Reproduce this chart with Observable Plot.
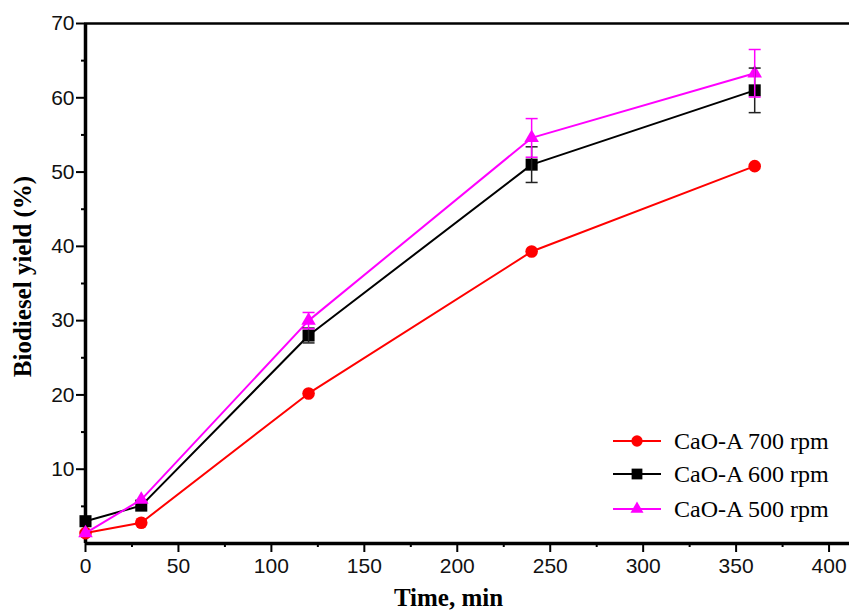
<!DOCTYPE html>
<html>
<head>
<meta charset="utf-8">
<script src="https://cdn.jsdelivr.net/npm/d3@7"></script>
<script src="https://cdn.jsdelivr.net/npm/@observablehq/plot@0.6"></script>
<style>
  html, body { margin: 0; padding: 0; background: #fff; }
  #wrap { position: relative; width: 849px; height: 610px; overflow: hidden; }
  #legend { position: absolute; left: 0; top: 0; pointer-events: none; }
</style>
</head>
<body>
<div id="wrap"></div>
<script>
// ---- data ----
const time = [0, 30, 120, 240, 360];
const seriesNames = ["CaO-A 700 rpm", "CaO-A 600 rpm", "CaO-A 500 rpm"];
const yield700 = [1.4, 2.8, 20.2, 39.3, 50.8];
const yield600 = [3.0, 5.1, 28.0, 51.0, 61.0];
const yield500 = [1.4, 5.9, 30.0, 54.6, 63.3];
const err700 = [0, 0, 0, 0, 0];
const err600 = [0, 0, 1.0, 2.4, 3.0];
const err500 = [0, 0, 1.1, 2.6, 3.2];
const xTicks = [0, 50, 100, 150, 200, 250, 300, 350, 400];
const xMinorTicks = [25, 75, 125, 175, 225, 275, 325, 375];
const yTicks = [10, 20, 30, 40, 50, 60, 70];
const yMinorTicks = [5, 15, 25, 35, 45, 55, 65];
const xLabel = "Time, min";
const yLabel = "Biodiesel yield (%)";

// ---- styles ----
const colors = ["#ff0000", "#000000", "#ff00ff"];
const barColors = ["#ff0000", "#222222", "#ff00ff"];
const symbols = ["circle", "square", "triangle"];
const radii = [6.3, 6.8, 5.4];

const seriesValues = [yield700, yield600, yield500];
const seriesErr = [err700, err600, err500];

const rows = [];
seriesNames.forEach((name, s) => {
  time.forEach((t, i) => rows.push({series: name, s, time: t, y: seriesValues[s][i], err: seriesErr[s][i]}));
});
const errRows = rows.filter(d => d.err > 0);
const capRows = errRows.flatMap(d => [{...d, cy: d.y - d.err}, {...d, cy: d.y + d.err}]);

const cap = {draw(ctx) { ctx.moveTo(-6, 0); ctx.lineTo(6, 0); }};

const marks = [
  Plot.frame({anchor: "top", strokeWidth: 2.5}),
  Plot.axisX({ticks: xTicks, tickSize: 9, tickPadding: 6, strokeWidth: 2, label: null, fontSize: 21, fill: "#111"}),
  Plot.axisX({ticks: xMinorTicks, tickSize: 4, strokeWidth: 2, tickFormat: () => "", label: null}),
  Plot.axisY({ticks: yTicks, tickSize: 9, tickPadding: 2, strokeWidth: 2, label: null, fontSize: 21, fill: "#111"}),
  Plot.axisY({ticks: yMinorTicks, tickSize: 4, strokeWidth: 2, tickFormat: () => "", label: null}),
  Plot.ruleX([0], {strokeWidth: 3.5}),
  Plot.ruleY([0], {strokeWidth: 3.5})
];

seriesNames.forEach((name, s) => {
  const data = rows.filter(d => d.s === s);
  marks.push(Plot.line(data, {x: "time", y: "y", stroke: colors[s], strokeWidth: 2}));
  marks.push(Plot.dot(data, {x: "time", y: "y", symbol: symbols[s], r: radii[s], fill: colors[s], stroke: "none"}));
});
seriesNames.forEach((name, s) => {
  const e = errRows.filter(d => d.s === s);
  const c = capRows.filter(d => d.s === s);
  marks.push(Plot.ruleX(e, {x: "time", y1: d => d.y - d.err, y2: d => d.y + d.err, stroke: barColors[s], strokeWidth: 1.5}));
  marks.push(Plot.dot(c, {x: "time", y: "cy", symbol: cap, stroke: barColors[s], fill: "none", strokeWidth: 1.5}));
});

marks.push(Plot.text([yLabel], {frameAnchor: "left", textAnchor: "middle", rotate: -90, dx: -63, dy: -7, fontSize: 25, fontWeight: "bold", fontFamily: "Liberation Serif, Times New Roman, serif", fill: "#000"}));
marks.push(Plot.text([xLabel], {frameAnchor: "bottom", dx: -19, dy: 62, fontSize: 25, fontWeight: "bold", fontFamily: "Liberation Serif, Times New Roman, serif", fill: "#000"}));

const chart = Plot.plot({
  width: 849,
  height: 610,
  marginLeft: 85,
  marginRight: 0,
  marginTop: 23,
  marginBottom: 67,
  x: {domain: [0, 411]},
  y: {domain: [0, 70]},
  style: {fontFamily: "Liberation Sans, Arial, sans-serif", fontSize: "21px", background: "#fff", color: "#000", overflow: "visible"},
  marks
});
document.getElementById("wrap").appendChild(chart);

// ---- legend overlay ----
const legendRowsY = [441, 474, 509];
const lsvg = d3.select("#wrap").append("svg").attr("id", "legend").attr("width", 849).attr("height", 610);
seriesNames.forEach((name, s) => {
  const g = lsvg.append("g").attr("transform", `translate(0,${legendRowsY[s]})`);
  g.append("line").attr("x1", 613).attr("x2", 661).attr("y1", 0).attr("y2", 0).attr("stroke", colors[s]).attr("stroke-width", 2);
  g.append("path").attr("transform", "translate(637,0)")
    .attr("d", d3.symbol(s === 0 ? d3.symbolCircle : s === 1 ? d3.symbolSquare : d3.symbolTriangle, Math.PI * radii[s] * radii[s] * 0.8)())
    .attr("fill", colors[s]);
  g.append("text").attr("x", 674).attr("y", 0).attr("dy", "0.35em")
    .attr("font-family", "Liberation Serif, Times New Roman, serif").attr("font-size", 24).attr("fill", "#000")
    .text(name);
});
</script>
</body>
</html>
